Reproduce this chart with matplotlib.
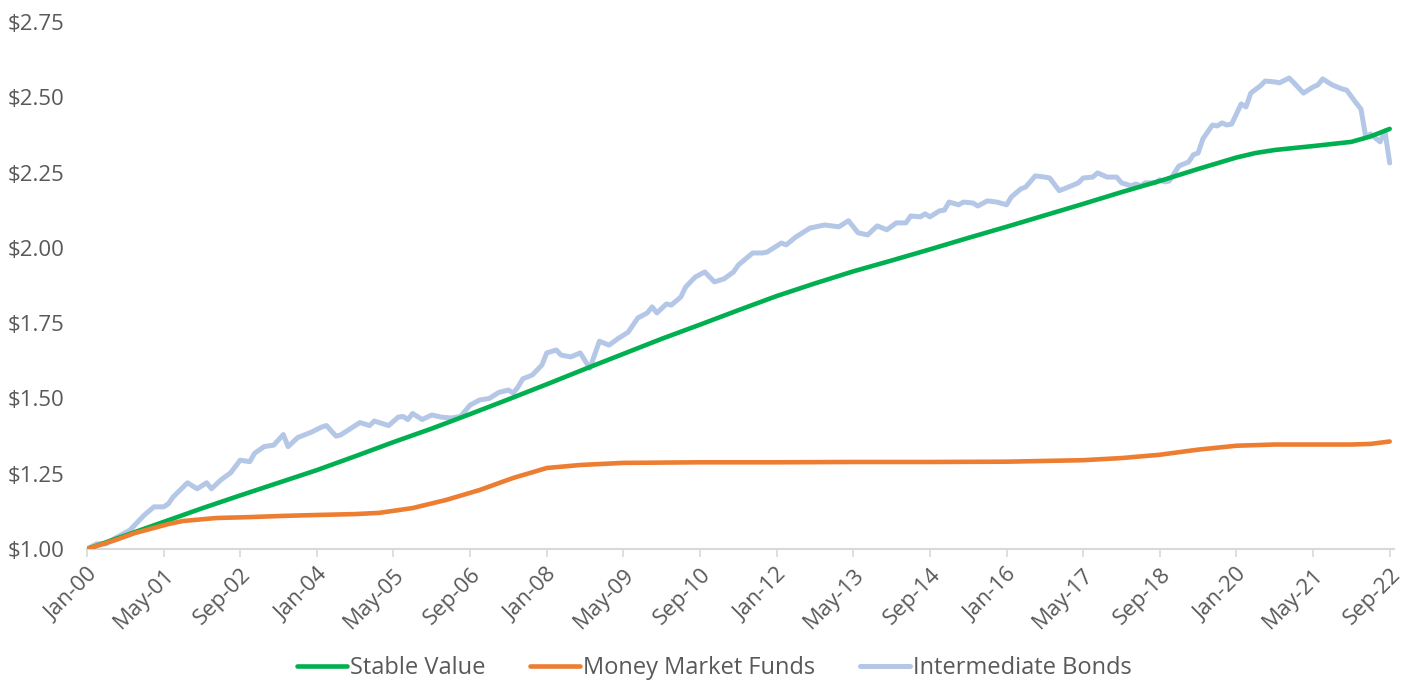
import pandas as pd
import matplotlib
matplotlib.use("Agg")
import matplotlib.pyplot as plt
from matplotlib.ticker import FuncFormatter

plt.rcParams['font.family'] = ['Open Sans', 'DejaVu Sans']

# months since Jan-2000 and growth of $1
sv_months = [0, 8, 16, 24, 32, 40, 48, 56, 64, 72, 80, 88, 96, 104, 112, 120, 128,
             136, 144, 152, 160, 168, 176, 184, 192, 200, 208, 216, 224, 232, 240,
             244, 248, 256, 264, 268, 272]
sv_values = [1.00, 1.045, 1.09, 1.135, 1.178, 1.22, 1.262, 1.308, 1.355, 1.40, 1.448,
             1.497, 1.547, 1.598, 1.648, 1.698, 1.745, 1.793, 1.84, 1.882, 1.922,
             1.958, 1.995, 2.033, 2.07, 2.108, 2.146, 2.185, 2.222, 2.262, 2.30,
             2.315, 2.325, 2.338, 2.352, 2.37, 2.395]

mm_months = [0, 6, 10, 14, 17, 20, 27, 34, 41, 48, 56, 61, 68, 75, 82, 89, 96, 103,
             112, 128, 144, 160, 176, 192, 208, 216, 224, 232, 240, 248, 256, 264,
             268, 272]
mm_values = [1.00, 1.03, 1.053, 1.07, 1.083, 1.093, 1.103, 1.106, 1.11, 1.113, 1.116,
             1.12, 1.136, 1.163, 1.196, 1.236, 1.269, 1.279, 1.286, 1.288, 1.288,
             1.289, 1.289, 1.29, 1.295, 1.302, 1.313, 1.33, 1.343, 1.347, 1.347,
             1.347, 1.349, 1.357]

ib_months = [0, 2, 4, 6, 9, 10, 12, 14, 16, 17, 18, 21, 23, 25, 26, 28, 30, 32, 34, 35,
             37, 39, 41, 42, 44, 47, 49, 50, 52, 53, 56, 57, 59, 60, 63, 65, 66, 67,
             68, 70, 72, 74, 76, 78, 80, 82, 84, 86, 88, 89, 90, 91, 93, 95, 96, 98,
             99, 101, 103, 105, 107, 109, 111, 113, 115, 117, 118, 119, 121, 122,
             124, 125, 127, 129, 131, 133, 135, 136, 139, 141, 142, 145, 146, 148,
             149, 151, 154, 157, 159, 161, 163, 165, 167, 169, 171, 172, 174, 175,
             176, 178, 179, 180, 182, 183, 185, 186, 188, 190, 192, 193, 195, 196,
             198, 200, 201, 203, 204, 206, 207, 208, 210, 211, 213, 215, 216, 218,
             219, 220, 221, 223, 224, 225, 226, 228, 230, 231, 232, 233, 235, 236,
             237, 238, 239, 241, 242, 243, 245, 246, 248, 249, 251, 252, 254, 256,
             257, 258, 260, 262, 263, 265, 266, 267, 268, 270, 271, 272]
ib_values = [1.00, 1.017, 1.017, 1.037, 1.063, 1.08, 1.113, 1.14, 1.14, 1.15, 1.173,
             1.22, 1.20, 1.22, 1.20, 1.23, 1.253, 1.295, 1.29, 1.318, 1.34, 1.345,
             1.38, 1.34, 1.37, 1.389, 1.405, 1.41, 1.375, 1.379, 1.41, 1.42, 1.41,
             1.425, 1.41, 1.438, 1.44, 1.43, 1.45, 1.43, 1.445, 1.438, 1.435, 1.44,
             1.478, 1.495, 1.50, 1.52, 1.528, 1.518, 1.538, 1.565, 1.578, 1.611,
             1.651, 1.661, 1.644, 1.638, 1.651, 1.60, 1.69, 1.677, 1.70, 1.72, 1.767,
             1.784, 1.804, 1.784, 1.814, 1.81, 1.837, 1.87, 1.903, 1.92, 1.887,
             1.897, 1.92, 1.943, 1.983, 1.983, 1.986, 2.016, 2.01, 2.036, 2.046,
             2.066, 2.076, 2.07, 2.09, 2.05, 2.043, 2.073, 2.06, 2.083, 2.083, 2.106,
             2.103, 2.113, 2.103, 2.123, 2.125, 2.152, 2.143, 2.152, 2.149, 2.139,
             2.156, 2.152, 2.143, 2.169, 2.196, 2.202, 2.239, 2.235, 2.232, 2.19,
             2.196, 2.209, 2.216, 2.232, 2.235, 2.249, 2.235, 2.235, 2.216, 2.206,
             2.212, 2.206, 2.216, 2.216, 2.226, 2.219, 2.222, 2.272, 2.285, 2.309,
             2.315, 2.362, 2.408, 2.405, 2.415, 2.408, 2.411, 2.478, 2.468, 2.514,
             2.538, 2.554, 2.551, 2.548, 2.564, 2.548, 2.514, 2.534, 2.541, 2.561,
             2.541, 2.528, 2.524, 2.481, 2.461, 2.368, 2.378, 2.352, 2.388, 2.282]

series_names = ["Stable Value", "Money Market Funds", "Intermediate Bonds"]
series_colors = ["#00B050", "#ED7D31", "#B4C7E7"]

y_ticks = [1.00, 1.25, 1.50, 1.75, 2.00, 2.25, 2.50, 2.75]
tick_months = list(range(0, 273, 16))
all_dates = pd.date_range("2000-01-01", periods=273, freq="MS")
tick_labels = [all_dates[m].strftime("%b-%y") for m in tick_months]

fig = plt.figure(figsize=(14.09, 6.81), dpi=100)
ax = fig.add_axes([0.0617, 0.1938, 0.928, 0.7739])

ax.plot(sv_months, sv_values, color=series_colors[0], lw=3.3, label=series_names[0],
        solid_capstyle="round", zorder=3)
ax.plot(mm_months, mm_values, color=series_colors[1], lw=3.3, label=series_names[1],
        solid_capstyle="round", zorder=3)
ax.plot(ib_months, ib_values, color=series_colors[2], lw=3.6, label=series_names[2],
        solid_capstyle="round", solid_joinstyle="round", zorder=2)

ax.set_xlim(0, 273)
ax.set_ylim(1.0, 2.75)
ax.set_yticks(y_ticks)
ax.yaxis.set_major_formatter(FuncFormatter(lambda v, _: f"${v:.2f}"))
ax.set_xticks(tick_months)
ax.set_xticklabels(tick_labels, rotation=45, ha="right", rotation_mode="anchor")

for s in ["top", "right", "left"]:
    ax.spines[s].set_visible(False)
ax.spines["bottom"].set_color("#D9D9D9")
ax.spines["bottom"].set_linewidth(1.5)
ax.tick_params(axis="y", length=0, pad=16, labelsize=16, labelcolor="#595959")
ax.tick_params(axis="x", length=6, width=1.2, color="#D9D9D9", pad=5,
               labelsize=16, labelcolor="#595959", direction="out")

fig.legend(loc="lower center", bbox_to_anchor=(0.507, -0.03), ncol=3, frameon=False,
           fontsize=17, handlelength=2.1, handletextpad=0.13, columnspacing=1.9,
           labelcolor="#595959")

fig.savefig("out.png", dpi=100)
